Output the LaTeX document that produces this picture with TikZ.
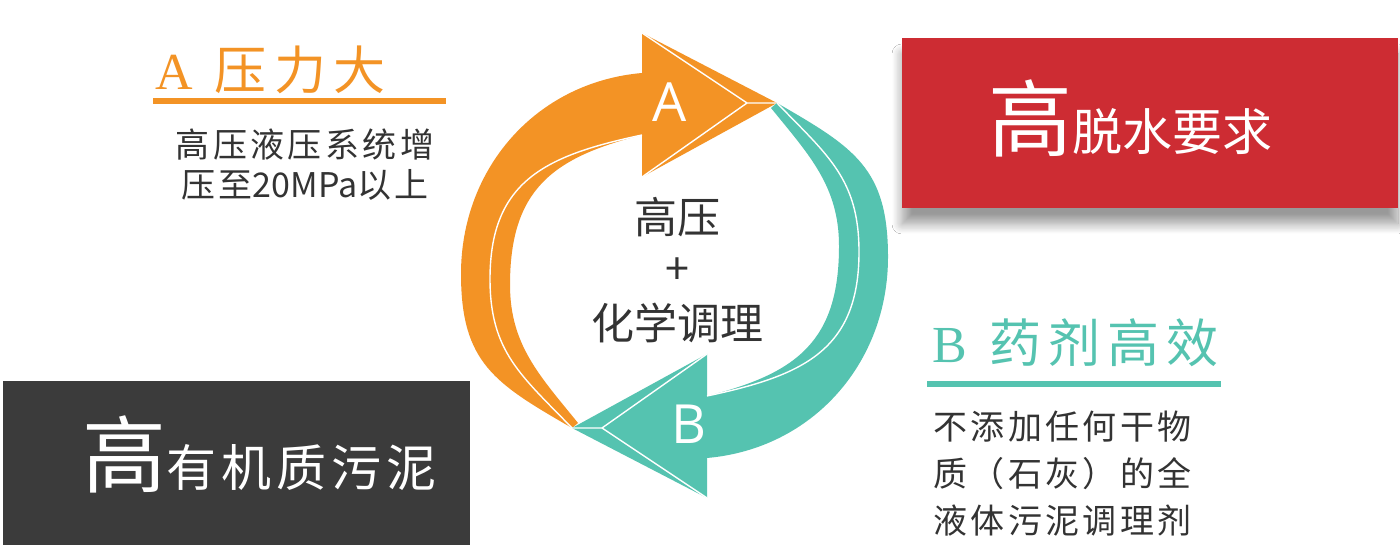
\documentclass[tikz,border=0pt]{standalone}
\usepackage{fontspec}
\newfontfamily\cjk{Noto Sans CJK SC}
\newfontfamily\cjkwide{Noto Sans CJK SC}[LetterSpace=10]
\newfontfamily\cjkhead{Noto Sans CJK SC}[LetterSpace=14]
\newfontfamily\latinserif{Liberation Serif}
\newfontfamily\latinsans{Open Sans}
\usetikzlibrary{positioning,shadows.blur}
\definecolor{aorange}{HTML}{F39325}
\definecolor{bteal}{HTML}{55C3B0}
\definecolor{hired}{HTML}{CD2C33}
\definecolor{darkbox}{HTML}{3B3B3B}
\definecolor{bodygray}{HTML}{333333}
\newcommand\loophalf[1]{%
  \fill[#1] (572,121) to[out=150,in=-90,looseness=1.2] (461,275) to[out=90,in=185] (642,476)
    -- (642,516) -- (777,446) -- (642,372) -- (642,414)
    to[out=194,in=90,looseness=1.2] (510,264) to[out=-90,in=129] (578,126) -- cycle;
  \draw[bevel] (642,414) to[out=192,in=90,looseness=1.2] (490,270) to[out=-90,in=134,looseness=1.1] (572,121);
  \draw[bevel] (642,516) -- (747,446) -- (642,372) (747,446) -- (777,446);
}

\begin{document}
\begin{tikzpicture}[x=0.5pt,y=0.5pt,
  panel/.style={inner sep=0, outer sep=0, anchor=south west},
  heading/.style={inner sep=0, anchor=west, font=\fontsize{26}{26}\selectfont},
  bodyline/.style={inner sep=0, text=bodygray, font=\fontsize{17}{17}\selectfont\cjkwide},
  coretext/.style={inner sep=0, text=bodygray, font=\fontsize{21.5}{21.5}\selectfont\cjk},
  bevel/.style={white, line width=0.7pt},
  letter/.style={inner sep=0, text=white, font=\fontsize{27}{27}\selectfont\latinsans},
  rule/.style={line width=3pt}
]
\useasboundingbox (0,0) rectangle (1400,549);
\fill[white] (0,0) rectangle (1400,549);

\node[panel, fill=hired, minimum width=248pt, minimum height=85pt,
  blur shadow={shadow xshift=0pt, shadow yshift=-8pt, shadow blur radius=5pt, shadow blur steps=12, shadow opacity=40}] (hibox) at (902,341) {};
\node[panel, fill=darkbox, minimum width=233.5pt, minimum height=82pt] (orgbox) at (3,4) {};

\node[inner sep=0, anchor=west, text=white] (hitext) at (988,431)
  {{\fontsize{42}{42}\selectfont\cjk 高}{\fontsize{25}{25}\selectfont\cjk 脱水要求}};
\node[inner sep=0, anchor=west, text=white] (orgtext) at (82,95)
  {{\fontsize{42}{42}\selectfont\cjk 高}{\fontsize{25}{25}\selectfont\cjkwide 有机质污泥}};

\loophalf{aorange}
\begin{scope}[rotate around={180:(674.5,283.5)}]
\loophalf{bteal}
\end{scope}
\node[letter] (alabel) at (670,447) {A};
\node[letter] (blabel) at (689,125) {B};

\node[coretext] (core1) at (677,332) {高压};
\node[coretext, below=27pt of core1.center, anchor=center] (coreplus) {+};
\node[coretext, below=26pt of coreplus.center, anchor=center] (core2) {化学调理};

\node[heading, text=aorange] (ahead) at (155,479) {{\latinserif A}\hspace{11pt}{\cjkhead 压力大}};
\draw[rule, aorange] (153,448) -- (446,448);
\node[bodyline] (abody1) at (305,404) {高压液压系统增};
\node[bodyline, below=20pt of abody1.center, anchor=center] (abody2) {压至{\cjk 20MPa}以上};

\node[heading, text=bteal] (bhead) at (932,206) {{\latinserif B}\hspace{11pt}{\cjkhead 药剂高效}};
\draw[rule, bteal] (927,165) -- (1221,165);
\node[bodyline, anchor=west] (bbody1) at (933,122) {不添加任何干物};
\node[bodyline, below=23.5pt of bbody1.west, anchor=west] (bbody2) {质（石灰）的全};
\node[bodyline, below=23.5pt of bbody2.west, anchor=west] (bbody3) {液体污泥调理剂};
\end{tikzpicture}
\end{document}
